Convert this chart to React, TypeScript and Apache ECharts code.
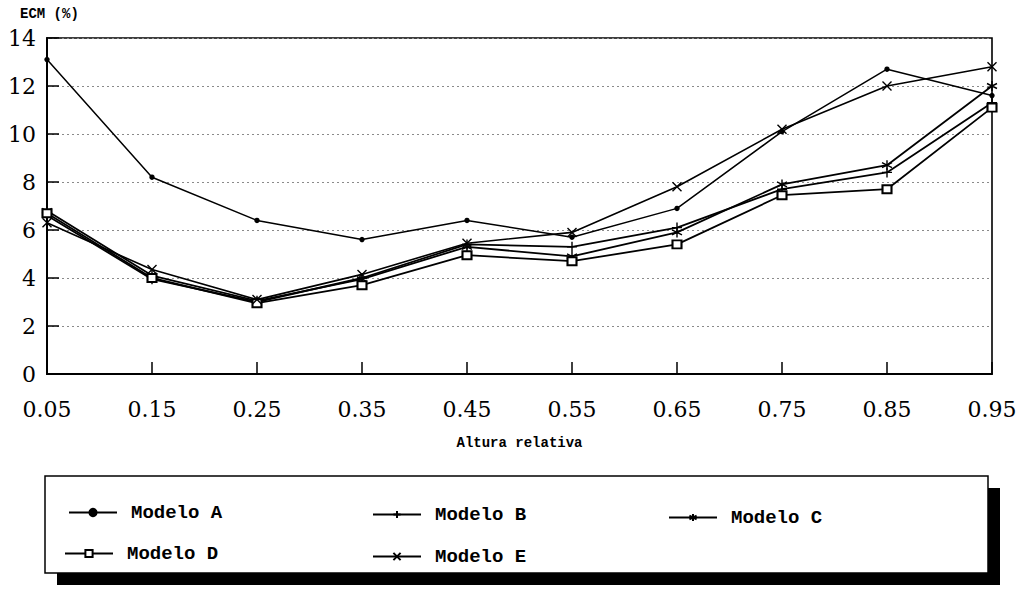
import React, { useEffect, useRef } from "react";
import * as echarts from "echarts";

const categories = ["0.05", "0.15", "0.25", "0.35", "0.45", "0.55", "0.65", "0.75", "0.85", "0.95"];
const modeloA = [13.1, 8.2, 6.4, 5.6, 6.4, 5.7, 6.9, 10.1, 12.7, 11.6];
const modeloB = [6.6, 3.95, 3.0, 4.0, 5.4, 5.3, 6.1, 7.7, 8.4, 11.3];
const modeloC = [6.8, 4.1, 3.05, 3.95, 5.3, 4.9, 5.9, 7.9, 8.7, 12.0];
const modeloD = [6.7, 4.0, 2.95, 3.7, 4.95, 4.7, 5.4, 7.45, 7.7, 11.1];
const modeloE = [6.3, 4.35, 3.1, 4.15, 5.45, 5.9, 7.8, 10.2, 12.0, 12.8];
const seriesNames = ["Modelo A", "Modelo B", "Modelo C", "Modelo D", "Modelo E"];

const PLUS = "path://M5,0L5,10M0,5L10,5";
const CROSS = "path://M0,0L10,10M0,10L10,0";
const STAR = "path://M5,0L5,10M0.7,2.5L9.3,7.5M0.7,7.5L9.3,2.5";

export default function App() {
  const ref = useRef<HTMLDivElement>(null);
  useEffect(() => {
    document.body.style.margin = "0";
    if (!ref.current) return;
    const chart = echarts.init(ref.current, undefined, { renderer: "svg" });
    const mono = "Liberation Mono";
    const mkSeries = (name: string, data: number[], symbol: string, size: any, width: number) => ({
      name,
      type: "line",
      data,
      symbol,
      symbolSize: size,
      showSymbol: true,
      lineStyle: { color: "#000", width },
      itemStyle: { color: "#000", borderColor: "#000", borderWidth: 1.4 },
      z: 3,
    });
    const legendItem = (name: string, left: number, top: number) => ({
      show: true,
      data: [name],
      left,
      top,
      padding: 0,
      itemWidth: 48,
      itemHeight: 9,
      selectedMode: false,
      textStyle: { fontFamily: mono, fontWeight: "bold", fontSize: 19, color: "#000", padding: [0, 0, 0, 9] },
    });
    chart.setOption({
      animation: false,
      backgroundColor: "#fff",
      grid: {
        left: 47,
        right: 30,
        top: 38,
        bottom: 221,
        show: true,
        borderColor: "#000",
        borderWidth: 1.6,
      },
      xAxis: {
        type: "category",
        data: categories,
        boundaryGap: false,
        name: "Altura relativa",
        nameLocation: "middle",
        nameGap: 62,
        nameTextStyle: { fontFamily: mono, fontWeight: "bold", fontSize: 14, color: "#000" },
        axisLine: { lineStyle: { color: "#000", width: 2 } },
        axisTick: { inside: true, length: 12, lineStyle: { color: "#000", width: 1.5 } },
        axisLabel: { fontFamily: "DejaVu Serif", fontSize: 22, color: "#000", margin: 24 },
        splitLine: { show: false },
      },
      yAxis: {
        type: "value",
        min: 0,
        max: 14,
        interval: 2,
        name: "ECM (%)",
        nameLocation: "end",
        nameGap: 17,
        nameTextStyle: { fontFamily: mono, fontWeight: "bold", fontSize: 14, color: "#000", align: "left", padding: [0, 0, 0, -27] },
        axisLine: { show: true, lineStyle: { color: "#000", width: 2 } },
        axisTick: { show: true, inside: true, length: 12, lineStyle: { color: "#000", width: 1.5 } },
        axisLabel: { fontFamily: "DejaVu Serif", fontSize: 22, color: "#000", margin: 11 },
        splitLine: { show: true, lineStyle: { color: "#8a8a8a", width: 1, type: [2, 3] } },
      },
      legend: [
        legendItem(seriesNames[0], 68, 503),
        legendItem(seriesNames[1], 372, 505),
        legendItem(seriesNames[2], 668, 508),
        legendItem(seriesNames[3], 64, 544),
        legendItem(seriesNames[4], 372, 547),
      ],
      graphic: [
        { type: "rect", z: -2, shape: { x: 57, y: 488, width: 943, height: 97 }, style: { fill: "#000" } },
        { type: "rect", z: -1, shape: { x: 45, y: 476, width: 943, height: 97 }, style: { fill: "#fff", stroke: "#000", lineWidth: 1.5 } },
      ],
      series: [
        mkSeries(seriesNames[0], modeloA, "circle", 4, 1.5),
        mkSeries(seriesNames[1], modeloB, PLUS, 10, 1.8),
        mkSeries(seriesNames[2], modeloC, STAR, 10, 1.8),
        mkSeries(seriesNames[3], modeloD, "emptyRect", [9, 8], 1.8),
        mkSeries(seriesNames[4], modeloE, CROSS, 9, 1.6),
      ],
    });
    return () => chart.dispose();
  }, []);
  return <div ref={ref} style={{ width: 1022, height: 595 }} />;
}
